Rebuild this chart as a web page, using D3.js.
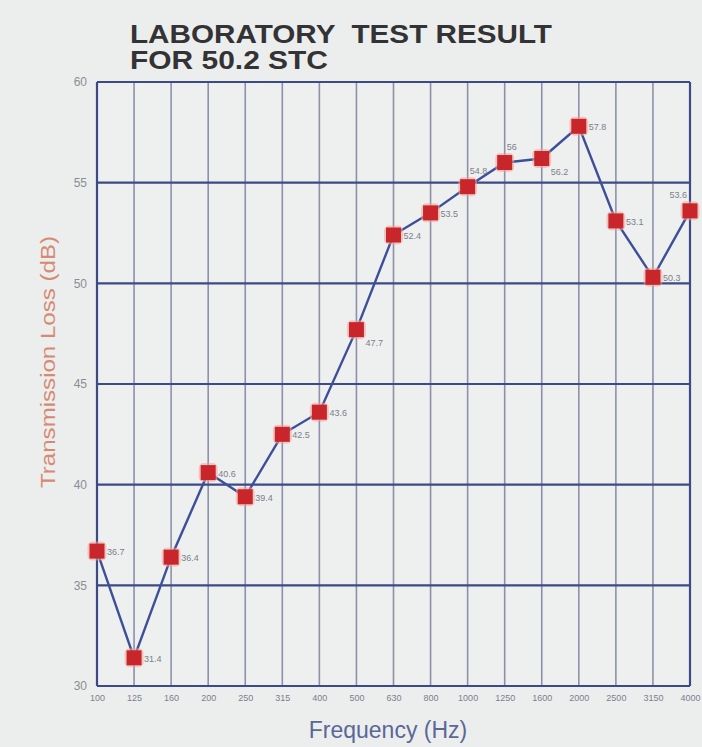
<!DOCTYPE html>
<html>
<head>
<meta charset="utf-8">
<script src="https://cdn.jsdelivr.net/npm/d3@7"></script>
<style>
  html, body { margin: 0; padding: 0; background: #eceeee; }
  svg { display: block; }
</style>
</head>
<body>
<svg id="chart" width="702" height="747"></svg>
<script>
// ---- data ----
const frequencies = ["100","125","160","200","250","315","400","500","630","800","1000","1250","1600","2000","2500","3150","4000"];
const transmissionLoss = [36.7, 31.4, 36.4, 40.6, 39.4, 42.5, 43.6, 47.7, 52.4, 53.5, 54.8, 56, 56.2, 57.8, 53.1, 50.3, 53.6];
const pointLabels = ["36.7","31.4","36.4","40.6","39.4","42.5","43.6","47.7","52.4","53.5","54.8","56","56.2","57.8","53.1","50.3","53.6"];
const labelPlacement = ["right","right","right","right","right","right","right","below","right","right","above","above","below","right","right","right","aboveLeft"];
const yTicks = [30, 35, 40, 45, 50, 55, 60];
const titleLines = ["LABORATORY  TEST RESULT", "FOR 50.2 STC"];

// ---- layout ----
const svg = d3.select("#chart");
const W = 702, H = 747;
const margin = { left: 97, right: 12, top: 82, bottom: 61 };
const x = d3.scalePoint().domain(frequencies).range([margin.left, W - margin.right]);
const y = d3.scaleLinear().domain([30, 60]).range([H - margin.bottom, margin.top]);

svg.append("rect").attr("width", W).attr("height", H).attr("fill", "#eceeee");

// plot background
svg.append("rect")
  .attr("x", margin.left).attr("y", margin.top)
  .attr("width", W - margin.right - margin.left)
  .attr("height", y(30) - y(60))
  .attr("fill", "#eef0f0");

// vertical grid lines
svg.append("g").selectAll("line").data(frequencies).join("line")
  .attr("x1", d => x(d)).attr("x2", d => x(d))
  .attr("y1", y(60)).attr("y2", y(30))
  .attr("stroke", "#6b7292").attr("stroke-width", 1.6)
  .attr("stroke-opacity", 0.75);

// horizontal grid lines
svg.append("g").selectAll("line").data(yTicks).join("line")
  .attr("x1", x(frequencies[0])).attr("x2", x(frequencies[frequencies.length - 1]))
  .attr("y1", d => y(d)).attr("y2", d => y(d))
  .attr("stroke", "#3c4a86").attr("stroke-width", 2.2);

// border left/right
[frequencies[0], frequencies[frequencies.length - 1]].forEach(f => {
  svg.append("line")
    .attr("x1", x(f)).attr("x2", x(f)).attr("y1", y(60)).attr("y2", y(30))
    .attr("stroke", "#3c4a86").attr("stroke-width", 2.2);
});

// y axis labels
const yAxis = d3.axisLeft(y).tickValues(yTicks).tickSize(0).tickPadding(10);
const gy = svg.append("g").attr("transform", `translate(${margin.left},0)`).call(yAxis);
gy.select(".domain").remove();
gy.selectAll("text").attr("font-family", "Liberation Sans, Arial, sans-serif")
  .attr("font-size", 12).attr("fill", "#8a8d94");

// x axis labels
const xAxis = d3.axisBottom(x).tickSize(0).tickPadding(9);
const gx = svg.append("g").attr("transform", `translate(0,${y(30)})`).call(xAxis);
gx.select(".domain").remove();
gx.selectAll("text").attr("font-family", "Liberation Sans Narrow, Liberation Sans, Arial, sans-serif")
  .attr("font-size", 9).attr("fill", "#7d808a");

// line
const line = d3.line().x((d, i) => x(frequencies[i])).y(d => y(d));
svg.append("path").datum(transmissionLoss)
  .attr("d", line).attr("fill", "none")
  .attr("stroke", "#3d4f98").attr("stroke-width", 2.4);

// markers (glow + square)
const s = 15;
svg.append("g").selectAll("rect").data(transmissionLoss).join("rect")
  .attr("x", (d, i) => x(frequencies[i]) - s / 2 - 2)
  .attr("y", d => y(d) - s / 2 - 2)
  .attr("width", s + 4).attr("height", s + 4).attr("rx", 5)
  .attr("fill", "#f2a49a").attr("opacity", 0.55);
svg.append("g").selectAll("rect").data(transmissionLoss).join("rect")
  .attr("x", (d, i) => x(frequencies[i]) - s / 2)
  .attr("y", d => y(d) - s / 2)
  .attr("width", s).attr("height", s)
  .attr("fill", "#c8262a");

// point labels
const off = {
  right: { dx: 10, dy: 4, anchor: "start" },
  above: { dx: 2, dy: -13, anchor: "start" },
  below: { dx: 9, dy: 16, anchor: "start" },
  aboveLeft: { dx: -3, dy: -13, anchor: "end" }
};
svg.append("g").selectAll("text").data(transmissionLoss).join("text")
  .attr("x", (d, i) => x(frequencies[i]) + off[labelPlacement[i]].dx)
  .attr("y", (d, i) => y(d) + off[labelPlacement[i]].dy)
  .attr("text-anchor", (d, i) => off[labelPlacement[i]].anchor)
  .attr("font-family", "Liberation Sans, Arial, sans-serif")
  .attr("font-size", 9).attr("fill", "#7a7f8a")
  .text((d, i) => pointLabels[i]);

// axis titles
svg.append("text")
  .attr("x", 388).attr("y", 738)
  .attr("text-anchor", "middle")
  .attr("font-family", "Liberation Sans, Arial, sans-serif")
  .attr("font-size", 23).attr("fill", "#5b6796")
  .text("Frequency (Hz)");

svg.append("text")
  .attr("transform", `translate(55,${362}) rotate(-90)`)
  .attr("text-anchor", "middle")
  .attr("font-family", "Liberation Sans, Arial, sans-serif")
  .attr("font-size", 21).attr("fill", "#d68a72")
  .attr("textLength", 252).attr("lengthAdjust", "spacingAndGlyphs")
  .text("Transmission Loss (dB)");

// title
const titleWidths = [422, 198];
svg.append("g").selectAll("text").data(titleLines).join("text")
  .attr("x", 130).attr("y", (d, i) => 43 + i * 26)
  .attr("font-family", "Liberation Sans, Arial, sans-serif")
  .attr("font-weight", "bold").attr("font-size", 25)
  .attr("fill", "#333335")
  .attr("textLength", (d, i) => titleWidths[i]).attr("lengthAdjust", "spacingAndGlyphs")
  .style("white-space", "pre")
  .text(d => d);
</script>
</body>
</html>
